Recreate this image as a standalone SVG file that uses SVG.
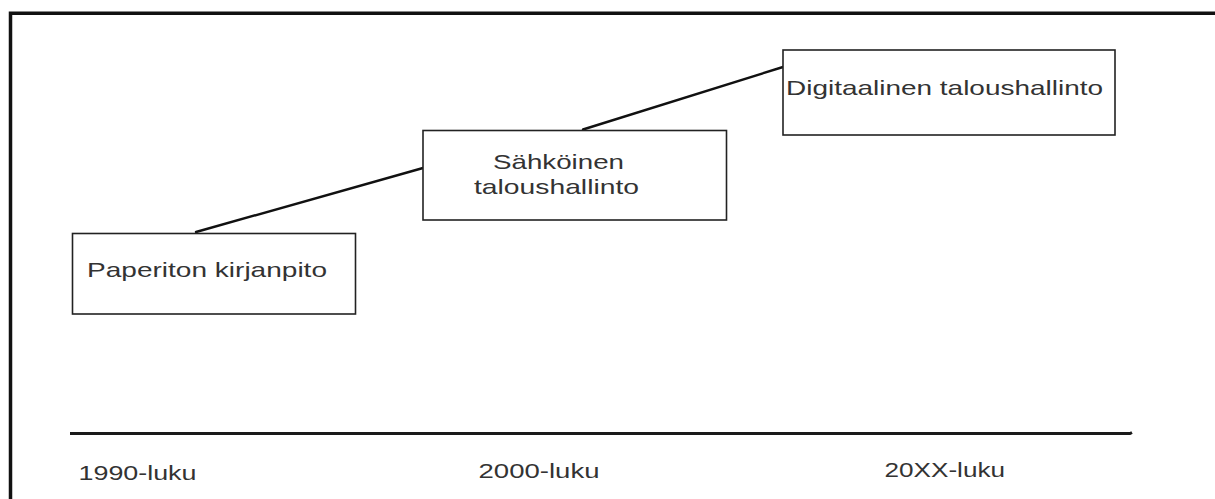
<svg xmlns="http://www.w3.org/2000/svg" width="1215" height="499" viewBox="0 0 1215 499">
  <style>
    .frame { fill: none; stroke: #111; stroke-width: 3.5; }
    .box { fill: #fff; stroke: #222; stroke-width: 1.6; }
    .link { fill: none; stroke: #111; stroke-width: 2.4; stroke-linecap: round; }
    .axis { fill: none; stroke: #1a1a1a; stroke-width: 3; }
    .lbl { font-family: "Liberation Sans", Arial, sans-serif; font-size: 21px; fill: #333; }
  </style>
  <rect width="1215" height="499" fill="#fff"/>
  <!-- outer frame, open to the right and bottom -->
  <path class="frame" d="M10.5,499 V13.2 H1215"/>

  <!-- connectors between stages -->
  <g id="connectors">
    <line class="link" x1="196" y1="232" x2="423" y2="168"/>
    <line class="link" x1="583" y1="129.5" x2="783" y2="67"/>
  </g>

  <g id="node-paperiton">
    <rect class="box" x="72.5" y="233.5" width="283" height="80.5"/>
    <text class="lbl" x="87" y="277" textLength="240" lengthAdjust="spacingAndGlyphs">Paperiton kirjanpito</text>
  </g>

  <g id="node-sahkoinen">
    <rect class="box" x="423" y="130.5" width="303.5" height="89.5"/>
    <text class="lbl" x="493" y="168.5" textLength="131" lengthAdjust="spacingAndGlyphs">Sähköinen</text>
    <text class="lbl" x="474" y="193.5" textLength="165" lengthAdjust="spacingAndGlyphs">taloushallinto</text>
  </g>

  <g id="node-digitaalinen">
    <rect class="box" x="783" y="50" width="332" height="85"/>
    <text class="lbl" x="786" y="95" textLength="317" lengthAdjust="spacingAndGlyphs">Digitaalinen taloushallinto</text>
  </g>

  <!-- time axis -->
  <g id="timeline">
    <path class="axis" d="M70,433.5 H1130 L1132,432.5"/>
    <text class="lbl" x="78.5" y="480" textLength="118" lengthAdjust="spacingAndGlyphs">1990-luku</text>
    <text class="lbl" x="478.5" y="478" textLength="121" lengthAdjust="spacingAndGlyphs">2000-luku</text>
    <text class="lbl" x="884.5" y="477" textLength="120.5" lengthAdjust="spacingAndGlyphs">20XX-luku</text>
  </g>
</svg>
